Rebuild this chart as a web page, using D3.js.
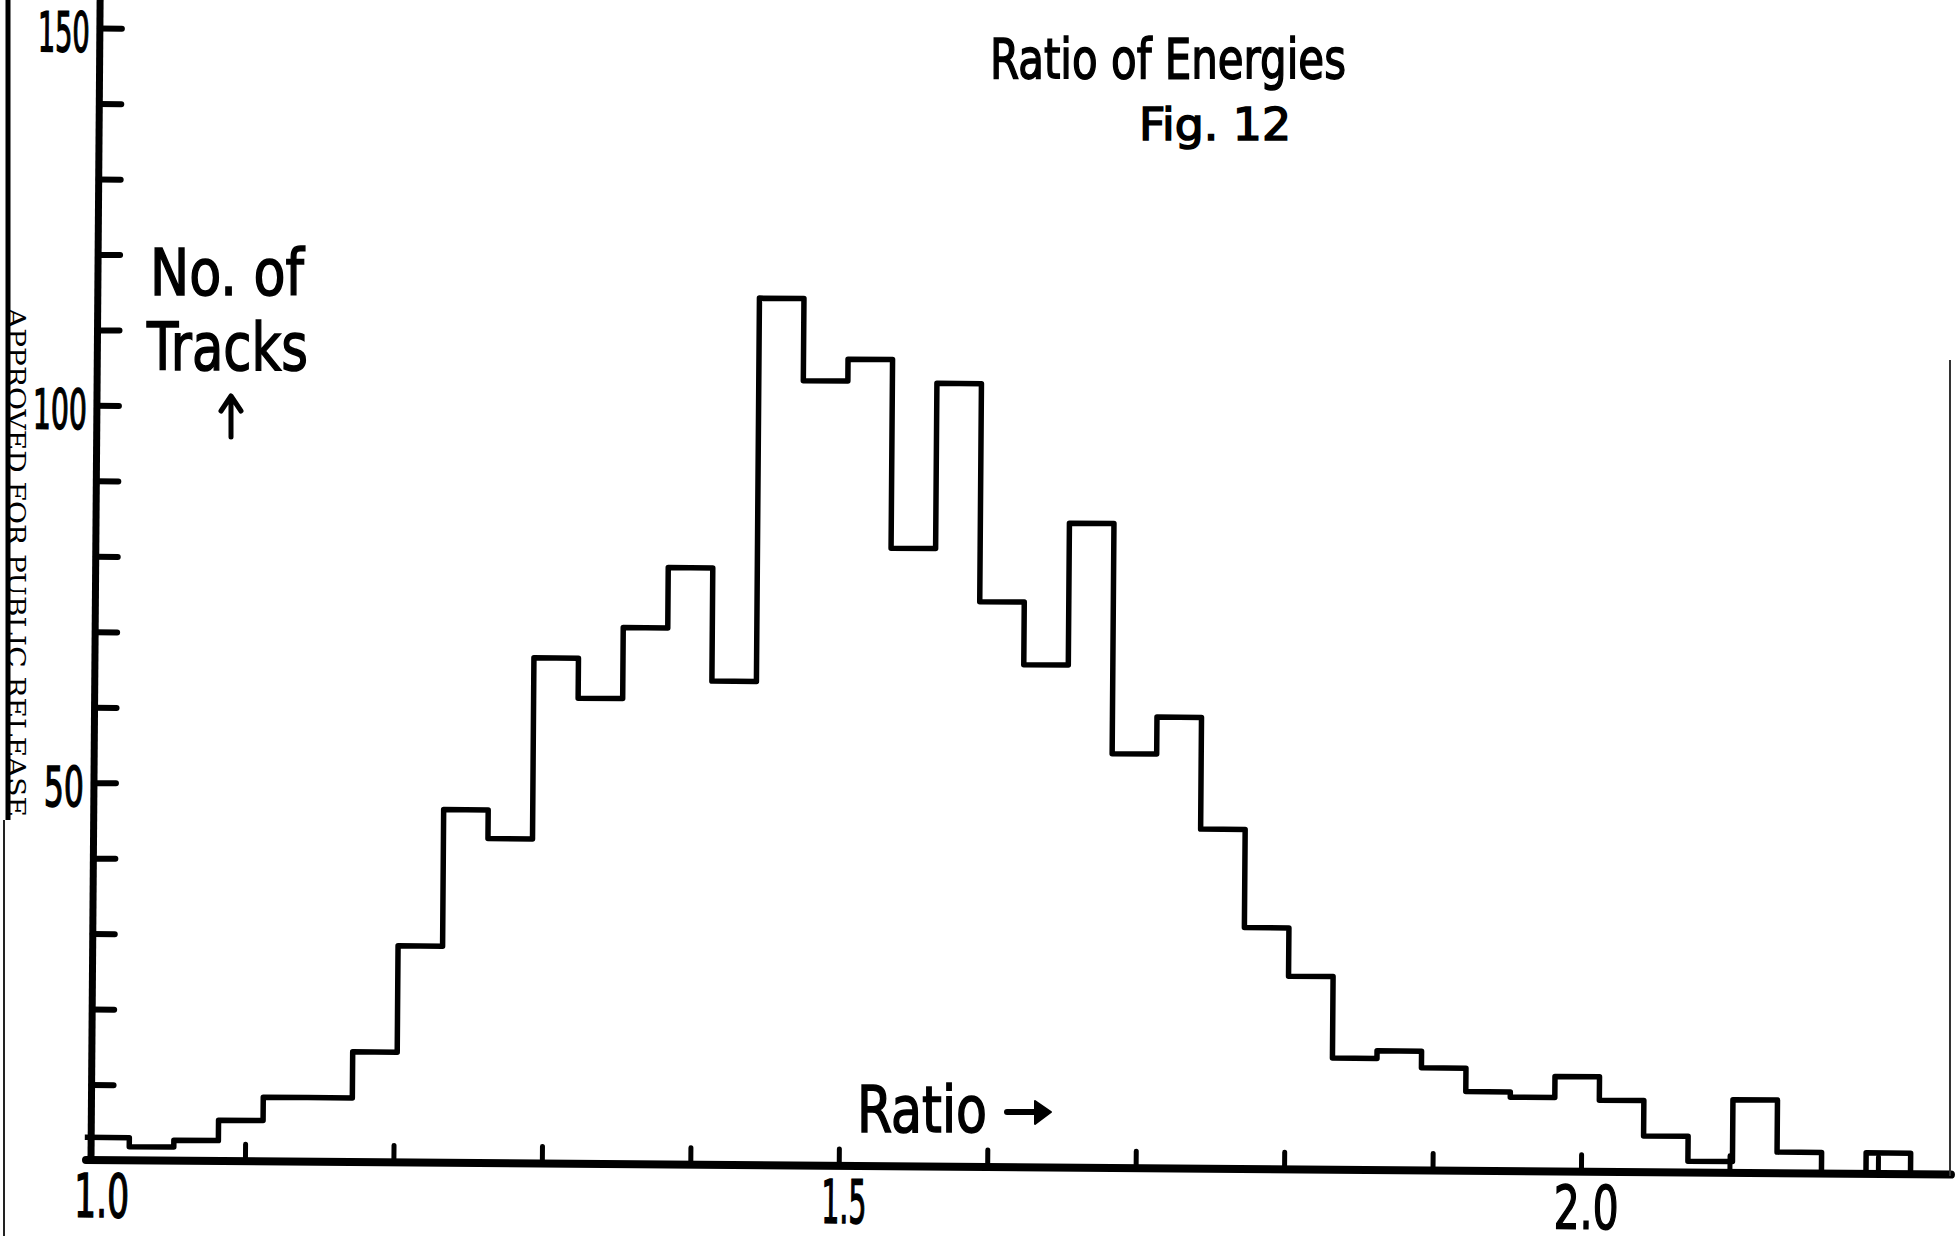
<!DOCTYPE html>
<html lang="en">
<head>
    <meta charset="utf-8">
    <title>Ratio of Energies - Fig. 12</title>
    <style type="text/css">
        body { margin: 0; background: #fff; }
        svg { display: block; background: #fff; }
        .hand { font-family: "DejaVu Sans", sans-serif; fill: #000; stroke: #000; stroke-width: 1.6px; }
        .hist { fill: none; stroke: #000; stroke-width: 5.5px; stroke-linejoin: round; }
    </style>
</head>
<body>
<svg width="1960" height="1244"></svg>

<script src="https://d3js.org/d3.v7.min.js"></script>
<script type="text/javascript">

    // counts per bin, bins of width 0.03 in energy ratio
    var counts = [3.0, 1.8, 2.7, 5.4, 8.5, 8.5, 14.6, 28.7, 46.8, 43.0,
                  67.0, 61.7, 71.1, 79.1, 64.1, 114.9, 104.0, 106.9, 81.9, 103.8,
                  74.9, 66.6, 85.4, 54.9, 59.8, 45.0, 32.0, 25.6, 14.8, 15.8,
                  13.6, 10.5, 9.8, 12.6, 9.5, 4.8, 1.5, 9.7, 2.8, 0, 2.8];
    var binStart = 0.992;
    var binWidth = 0.03;

    var xTicks = [1.0, 1.1, 1.2, 1.3, 1.4, 1.5, 1.6, 1.7, 1.8, 1.9, 2.0, 2.1, 2.2];
    var xLabels = ["1.0", "1.5", "2.0"];
    var yTicks = [10, 20, 30, 40, 50, 60, 70, 80, 90, 100, 110, 120, 130, 140, 150];
    var yLabels = [50, 100, 150];

    var svg = d3.select("svg");

    // the scanned sheet is tilted a little, so the plot is rotated about its origin
    var plot = svg.append("g")
        .attr("transform", "translate(91,1160) rotate(0.45)");

    var x = d3.scaleLinear().domain([1.0, 2.0]).range([5.5, 1490]);
    var y = d3.scaleLinear().domain([0, 150]).range([0, -1132]);

    // histogram outline
    var pts = [];
    counts.forEach(function (c, i) {
        var x0 = binStart + i * binWidth;
        pts.push([x(x0), y(c)]);
        pts.push([x(x0 + binWidth), y(c)]);
    });
    pts.push([pts[pts.length - 1][0], y(0)]);

    plot.append("path")
        .attr("class", "hist")
        .attr("d", d3.line()(pts));

    // x axis
    var xAxis = d3.axisBottom(x)
        .tickValues(xTicks)
        .tickSize(-17)
        .tickFormat(function (d) { return xLabels.indexOf(d.toFixed(1)) >= 0 ? d.toFixed(1) : ""; });

    var gx = plot.append("g").call(xAxis);
    gx.select(".domain").remove();
    gx.selectAll(".tick line")
        .style("stroke", "#000")
        .style("stroke-width", "5px")
        .style("stroke-linecap", "round")
        .style("display", function (d) { return d === 1.0 ? "none" : null; });
    var xLen = {"1.0": 55, "1.5": 45, "2.0": 65};
    gx.selectAll(".tick text")
        .attr("class", "hand")
        .attr("y", 57)
        .attr("dy", null)
        .attr("dx", 5)
        .attr("font-size", 60)
        .attr("textLength", function (d) { return xLen[d.toFixed(1)] || null; })
        .attr("lengthAdjust", "spacingAndGlyphs");

    // y axis
    var yAxis = d3.axisLeft(y)
        .tickValues(yTicks)
        .tickSize(-22)
        .tickPadding(10)
        .tickFormat(function (d) { return yLabels.indexOf(d) >= 0 ? d : ""; });

    var gy = plot.append("g").call(yAxis);
    gy.select(".domain").remove();
    gy.selectAll(".tick line")
        .style("stroke", "#000")
        .style("stroke-width", "6px")
        .style("stroke-linecap", "round");
    var yLen = {50: 40, 100: 54, 150: 52};
    gy.selectAll(".tick text")
        .attr("class", "hand")
        .attr("dy", "0.42em")
        .attr("font-size", 55)
        .attr("textLength", function (d) { return yLen[d] || null; })
        .attr("lengthAdjust", "spacingAndGlyphs");

    // heavy hand-drawn axis lines
    plot.append("line")
        .attr("x1", -5).attr("x2", 1860).attr("y1", 0).attr("y2", 0)
        .attr("stroke", "#000").attr("stroke-width", 8).attr("stroke-linecap", "round");
    plot.append("line")
        .attr("x1", 0).attr("x2", 0).attr("y1", 4).attr("y2", -1185)
        .attr("stroke", "#000").attr("stroke-width", 7);

    // lettering
    function hand(txt, tx, ty, size, len) {
        svg.append("text")
            .attr("class", "hand")
            .attr("x", tx).attr("y", ty)
            .attr("font-size", size)
            .attr("textLength", len)
            .attr("lengthAdjust", "spacingAndGlyphs")
            .text(txt);
    }
    hand("Ratio of Energies", 990, 78, 56, 356);
    hand("Fig. 12", 1139, 140, 45, 152);
    hand("No. of", 150, 295, 64, 154);
    hand("Tracks", 147, 370, 66, 161);
    hand("Ratio", 857, 1132, 64, 130);

    // arrows
    svg.append("path")
        .attr("d", "M231,437 L231,398 M221,411 L231,396 L241,411")
        .attr("fill", "none").attr("stroke", "#000")
        .attr("stroke-width", 5).attr("stroke-linecap", "round").attr("stroke-linejoin", "round");
    svg.append("path")
        .attr("d", "M1007,1112 L1040,1112")
        .attr("stroke", "#000").attr("stroke-width", 6).attr("stroke-linecap", "round");
    svg.append("path")
        .attr("d", "M1035,1101 L1051,1112 L1035,1124 Z")
        .attr("fill", "#000").attr("stroke", "#000").attr("stroke-width", 2).attr("stroke-linejoin", "round");

    // page edges and release stamp from the scan
    svg.append("line")
        .attr("x1", 8).attr("x2", 8).attr("y1", 0).attr("y2", 820)
        .attr("stroke", "#000").attr("stroke-width", 5);
    svg.append("line")
        .attr("x1", 4).attr("x2", 4).attr("y1", 820).attr("y2", 1236)
        .attr("stroke", "#222").attr("stroke-width", 2);
    svg.append("line")
        .attr("x1", 1950).attr("x2", 1950).attr("y1", 360).attr("y2", 1176)
        .attr("stroke", "#333").attr("stroke-width", 2);

    svg.append("text")
        .attr("transform", "translate(8,308) rotate(90)")
        .attr("font-family", "'DejaVu Serif', serif")
        .attr("font-size", 24)
        .attr("fill", "#000")
        .attr("textLength", 509)
        .attr("lengthAdjust", "spacingAndGlyphs")
        .text("APPROVED FOR PUBLIC RELEASE");

</script>
</body>
</html>
